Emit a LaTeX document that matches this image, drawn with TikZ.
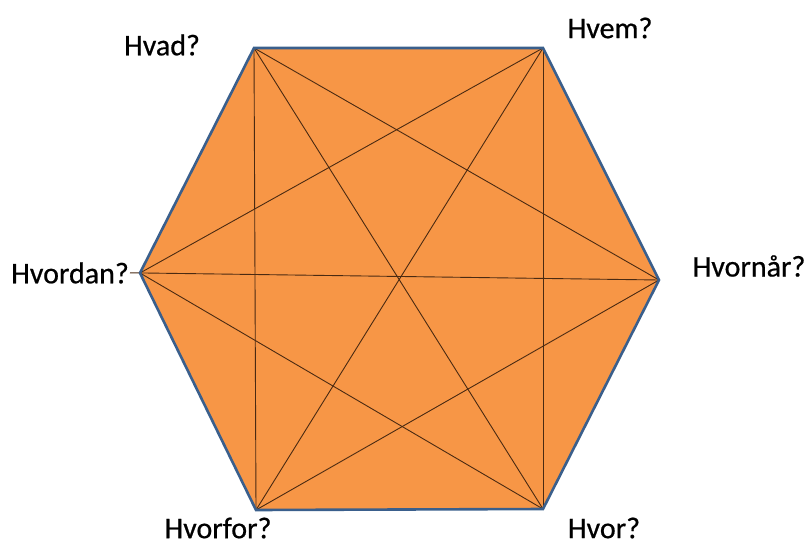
\documentclass[tikz,border=0pt]{standalone}
\usepackage{fontspec}
\setmainfont{Carlito}
\newfontfamily\lblfont[FakeBold=0.6]{Carlito}
\definecolor{hexfill}{HTML}{F79646}
\definecolor{hexedge}{HTML}{3A5F8C}
\definecolor{chord}{HTML}{4A2A12}
\begin{document}
\begin{tikzpicture}[x=1pt,y=-1pt,
  lbl/.style={font=\lblfont\fontsize{30}{34}\selectfont, inner sep=0pt, anchor=center},
  chordline/.style={draw=chord, line width=0.9pt}]
\useasboundingbox (0,0) rectangle (808,546);
\coordinate (TL) at (254,48);
\coordinate (TR) at (543,48);
\coordinate (R) at (659,280);
\coordinate (BR) at (543,509);
\coordinate (BL) at (256,510);
\coordinate (L) at (140,273);
\coordinate (Lx) at (130,272.8);
\fill[hexfill] (TL) -- (TR) -- (R) -- (BR) -- (BL) -- (L) -- cycle;
\draw[chordline] (TL) -- (BL);
\draw[chordline] (TL) -- (BR);
\draw[chordline] (TL) -- (R);
\draw[chordline] (TR) -- (BR);
\draw[chordline] (TR) -- (BL);
\draw[chordline] (TR) -- (L);
\draw[chordline] (Lx) -- (R);
\draw[chordline] (L) -- (BR);
\draw[chordline] (BL) -- (R);
\draw[hexedge, line width=2.6pt, line join=miter] (TL) -- (TR) -- (R) -- (BR) -- (BL) -- (L) -- cycle;
\node[lbl] (hvad) at (162,45) {Hvad?};
\node[lbl] (hvem) at (610,28) {Hvem?};
\node[lbl] (hvordan) at (70,273) {Hvordan?};
\node[lbl] (hvornaar) at (749,266) {Hvornår?};
\node[lbl] (hvorfor) at (218,528) {Hvorfor?};
\node[lbl] (hvor) at (604,528) {Hvor?};
\end{tikzpicture}
\end{document}
